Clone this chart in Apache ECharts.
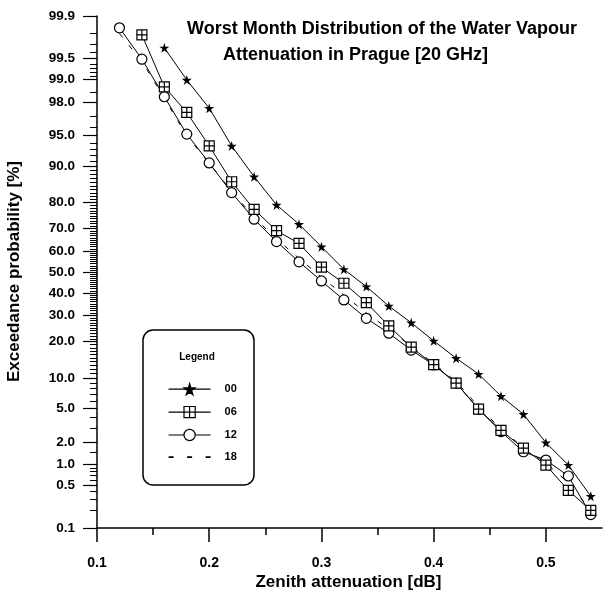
<!DOCTYPE html>
<html>
<head>
<meta charset="utf-8">
<script src="https://cdn.jsdelivr.net/npm/echarts@6/dist/echarts.min.js"></script>
<style>
html,body{margin:0;padding:0;background:#fff;}
#chart{width:612px;height:592px;}
</style>
</head>
<body>
<div id="chart"></div>
<script>
// ---- data ----
const attenuation = [0.12,0.14,0.16,0.18,0.20,0.22,0.24,0.26,0.28,0.30,0.32,0.34,0.36,0.38,0.40,0.42,0.44,0.46,0.48,0.50,0.52,0.54];
const p00 = [null,null,99.66,98.98,97.6,93.6,87.5,79.1,71.8,62.0,51.3,43.0,34.1,27.0,20.3,14.9,10.9,6.7,4.3,1.97,0.99,0.34];
const p06 = [null,99.79,98.73,97.3,93.6,86.2,77.5,69.1,63.5,52.3,44.6,35.6,25.8,18.2,13.2,9.0,4.9,2.8,1.67,0.99,0.42,0.2];
const p12 = [99.84,99.49,98.28,95.2,90.6,83.1,73.8,64.3,54.9,45.7,36.8,28.8,23.0,17.3,13.1,9.0,4.9,2.7,1.5,1.16,0.69,0.17];
const p18 = [99.8,99.45,98.2,95.0,90.5,83.5,74.5,65.5,56.5,47.5,39.0,31.0,24.5,18.5,13.5,9.3,5.2,2.9,1.7,1.05,0.55,0.2];
const seriesNames = ['00','06','12','18'];
const yTickLabels = ['99.9','99.5','99.0','98.0','95.0','90.0','80.0','70.0','60.0','50.0','40.0','30.0','20.0','10.0','5.0','2.0','1.0','0.5','0.1'];
const yMinorTicks = [99.8,99.7,99.6,99.4,99.3,99.2,99.1,98.5,97,96,94,93,92,91,
  89,88,87,86,85,84,83,82,81,79,78,77,76,75,74,73,72,71,69,68,67,66,65,64,63,62,61,
  59,58,57,56,55,54,53,52,51,49,48,47,46,45,44,43,42,41,39,38,37,36,35,34,33,32,31,
  29,28,27,26,25,24,23,22,21,19,18,17,16,15,14,13,12,11,9,8,7,6,4,3,1.5,0.9,0.8,0.7,0.6,0.4,0.3,0.2];
const xTickLabels = [0.1,0.2,0.3,0.4,0.5];
const xMinorTicks = [0.15,0.25,0.35,0.45];

// ---- probability scale (inverse normal CDF) ----
function probit(p){
  const a=[-3.969683028665376e+01,2.209460984245205e+02,-2.759285104469687e+02,1.383577518672690e+02,-3.066479806614716e+01,2.506628277459239e+00];
  const b=[-5.447609879822406e+01,1.615858368580409e+02,-1.556989798598866e+02,6.680131188771972e+01,-1.328068155288572e+01];
  const c=[-7.784894002430293e-03,-3.223964580411365e-01,-2.400758277161838e+00,-2.549671664286117e+00,4.374664141464968e+00,2.938163982698783e+00];
  const d=[7.784695709041462e-03,3.224671290700398e-01,2.445134137142996e+00,3.754408661907416e+00];
  const plow=0.02425, phigh=1-plow;
  let q,r;
  if(p<plow){q=Math.sqrt(-2*Math.log(p));return (((((c[0]*q+c[1])*q+c[2])*q+c[3])*q+c[4])*q+c[5])/((((d[0]*q+d[1])*q+d[2])*q+d[3])*q+1);}
  if(p<=phigh){q=p-0.5;r=q*q;return (((((a[0]*r+a[1])*r+a[2])*r+a[3])*r+a[4])*r+a[5])*q/(((((b[0]*r+b[1])*r+b[2])*r+b[3])*r+b[4])*r+1);}
  q=Math.sqrt(-2*Math.log(1-p));return -(((((c[0]*q+c[1])*q+c[2])*q+c[3])*q+c[4])*q+c[5])/((((d[0]*q+d[1])*q+d[2])*q+d[3])*q+1);
}
const Z = pct => probit(pct/100);
const yMajorZ = yTickLabels.map(s => Z(parseFloat(s)));
const yMinorZ = yMinorTicks.map(Z);
const zMin = Z(0.1), zMax = Z(99.9);

function pairs(arr){
  const out=[];
  arr.forEach((v,i)=>{ if(v!==null) out.push([attenuation[i], Z(v)]); });
  return out;
}

const FONT = "'Liberation Sans', Arial, sans-serif";
const starPath = 'path://M50,0 L61,35 L98,35 L68,57 L79,91 L50,70 L21,91 L32,57 L2,35 L39,35 Z';
const boxPlus = 'path://M0,0 L10,0 L10,10 L0,10 Z M5,0 L5,10 M0,5 L10,5';
const dashIcon = 'path://M0,0 L5,0 L5,1.8 L0,1.8 Z M18.5,0 L23.5,0 L23.5,1.8 L18.5,1.8 Z M37,0 L42,0 L42,1.8 L37,1.8 Z';

const chart = echarts.init(document.getElementById('chart'), null, {renderer:'canvas'});
const option = {
  backgroundColor:'#fff',
  animation:false,
  grid:{left:97, right:10, top:16, bottom:64},
  xAxis:[{
    type:'value', min:0.1, max:0.55,
    axisLine:{show:true, onZero:false, lineStyle:{color:'#000', width:1.5}},
    axisTick:{show:true, customValues:xTickLabels, length:14, lineStyle:{color:'#000', width:1.5}},
    axisLabel:{show:true, customValues:xTickLabels, margin:28, color:'#000', fontSize:14, fontWeight:'bold', fontFamily:FONT,
      formatter:v=>v.toFixed(1)},
    splitLine:{show:false}
  },{
    type:'value', min:0.1, max:0.55, position:'bottom',
    axisLine:{show:false, onZero:false},
    axisTick:{show:true, customValues:xMinorTicks, length:7, lineStyle:{color:'#000', width:1.5}},
    axisLabel:{show:false}, splitLine:{show:false}
  }],
  yAxis:[{
    type:'value', min:zMin, max:zMax, position:'left',
    axisLine:{show:true, onZero:false, lineStyle:{color:'#000', width:1.5}},
    axisTick:{show:true, customValues:yMajorZ, length:14, lineStyle:{color:'#000', width:1.2}},
    axisLabel:{show:true, customValues:yMajorZ, margin:22, color:'#000', fontSize:13.5, fontWeight:'bold', fontFamily:FONT,
      formatter:function(v){
        let best=0, bd=1e9;
        yMajorZ.forEach((z,i)=>{const dd=Math.abs(z-v); if(dd<bd){bd=dd;best=i;}});
        return yTickLabels[best];
      }},
    splitLine:{show:false}
  },{
    type:'value', min:zMin, max:zMax, position:'left', offset:0,
    axisLine:{show:false, onZero:false},
    axisTick:{show:true, customValues:yMinorZ, length:7, lineStyle:{color:'#000', width:1}},
    axisLabel:{show:false}, splitLine:{show:false}
  }],
  legend:{
    orient:'vertical', left:163, top:378,
    itemWidth:42, itemHeight:14, itemGap:10.5,
    lineStyle:{width:1.2, color:'#000'},
    itemStyle:{borderWidth:1.2},
    data:[{name:'00'},{name:'06'},{name:'12'},{name:'18', icon:dashIcon}],
    textStyle:{color:'#000', fontSize:11, fontWeight:'bold', fontFamily:FONT, padding:[0,0,0,9]}
  },
  graphic:[
    {type:'text', left:187, top:20, style:{text:'Worst Month Distribution of the Water Vapour', font:"bold 18px 'Liberation Sans', Arial, sans-serif", fill:'#000'}},
    {type:'text', left:223, top:46, style:{text:'Attenuation in Prague [20 GHz]', font:"bold 18px 'Liberation Sans', Arial, sans-serif", fill:'#000'}},
    {type:'text', x:348.5, y:582, style:{text:'Zenith attenuation [dB]', font:"bold 17px 'Liberation Sans', Arial, sans-serif", fill:'#000', align:'center', verticalAlign:'middle'}},
    {type:'text', x:14, y:271.5, rotation:Math.PI/2, style:{text:'Exceedance probability [%]', font:"bold 17px 'Liberation Sans', Arial, sans-serif", fill:'#000', align:'center', verticalAlign:'middle'}},
    {type:'rect', shape:{x:143, y:330, width:111, height:155, r:10}, style:{fill:'none', stroke:'#000', lineWidth:1.5}, z:10},
    {type:'text', x:197, y:357, style:{text:'Legend', font:"bold 10px 'Liberation Sans', Arial, sans-serif", fill:'#000', align:'center', verticalAlign:'middle'}, z:10}
  ],
  series:[
    {name:'00', type:'line', data:pairs(p00), symbol:starPath, symbolSize:10,
      lineStyle:{color:'#000', width:1}, itemStyle:{color:'#000', borderColor:'#000', borderWidth:0}, z:5},
    {name:'06', type:'line', data:pairs(p06), symbol:boxPlus, symbolSize:10,
      lineStyle:{color:'#000', width:1}, itemStyle:{color:'#fff', borderColor:'#000', borderWidth:1.2}, z:4},
    {name:'12', type:'line', data:pairs(p12), symbol:'circle', symbolSize:10,
      lineStyle:{color:'#000', width:1}, itemStyle:{color:'#fff', borderColor:'#000', borderWidth:1.2}, z:3},
    {name:'18', type:'line', data:pairs(p18), symbol:'none', showSymbol:false,
      lineStyle:{color:'#000', width:1, type:[5,10]}, itemStyle:{color:'#000'}, z:2}
  ]
};
chart.setOption(option);
</script>
</body>
</html>
